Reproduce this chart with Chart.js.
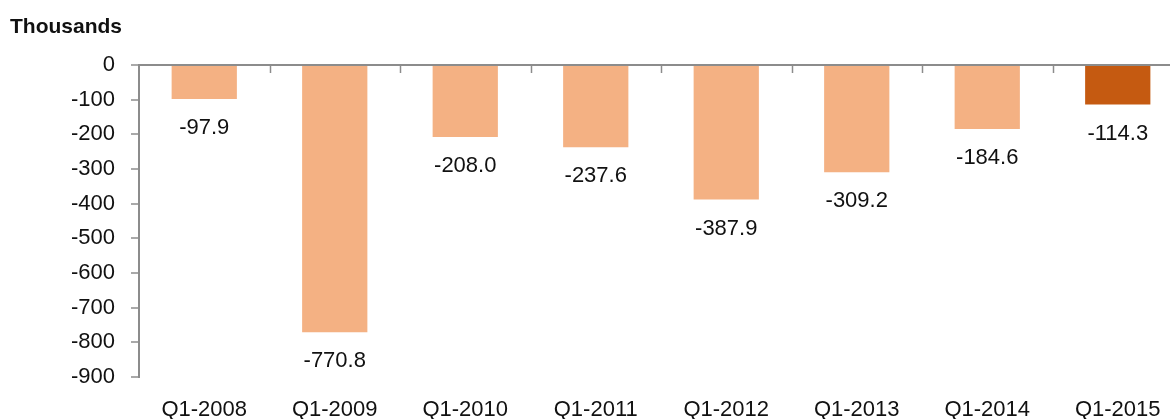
<!DOCTYPE html>
<html>
<head>
<meta charset="utf-8">
<script src="https://cdn.jsdelivr.net/npm/chart.js@4.4.1/dist/chart.umd.min.js"></script>
<style>
html,body{margin:0;padding:0;background:#fff;overflow:hidden;width:1170px;height:419px;}
#wrap{position:relative;width:1190px;height:419px;}
</style>
</head>
<body>
<div id="wrap"><canvas id="c" width="1190" height="419"></canvas></div>
<script>
const categories = ['Q1-2008','Q1-2009','Q1-2010','Q1-2011','Q1-2012','Q1-2013','Q1-2014','Q1-2015'];
const values = [-97.9, -770.8, -208.0, -237.6, -387.9, -309.2, -184.6, -114.3];
const highlighted = [false, false, false, false, false, false, false, true];
const yTicks = [0, -100, -200, -300, -400, -500, -600, -700, -800, -900];
const unitLabel = 'Thousands';

const FONT = "'Liberation Sans', Arial, sans-serif";
const AXIS = '#8c8c8c';

const catTicks = {
  id: 'catTicks',
  afterDatasetsDraw(chart) {
    const x = chart.scales.x, area = chart.chartArea, ctx = chart.ctx;
    ctx.save();
    ctx.strokeStyle = AXIS; ctx.lineWidth = 1.5;
    for (let i = 1; i <= categories.length; i++) {
      const px = Math.round((x.getPixelForValue(i - 1) + x.getPixelForValue(i)) / 2) + 0.5;
      ctx.beginPath(); ctx.moveTo(px, area.top); ctx.lineTo(px, area.top + 8); ctx.stroke();
    }
    ctx.restore();
  }
};

const valueLabels = {
  id: 'valueLabels',
  afterDatasetsDraw(chart) {
    const ctx = chart.ctx, meta = chart.getDatasetMeta(0);
    ctx.save();
    ctx.font = '22px ' + FONT; ctx.fillStyle = '#111';
    ctx.textAlign = 'center'; ctx.textBaseline = 'top';
    meta.data.forEach((bar, i) => {
      ctx.fillText(values[i].toFixed(1), bar.x, bar.y + 18);
    });
    ctx.restore();
  }
};

const unitTitle = {
  id: 'unitTitle',
  afterDraw(chart) {
    const ctx = chart.ctx;
    ctx.save();
    ctx.font = 'bold 21px ' + FONT; ctx.fillStyle = '#111';
    ctx.textAlign = 'left'; ctx.textBaseline = 'middle';
    ctx.fillText(unitLabel, 10, 27);
    ctx.restore();
  }
};

new Chart(document.getElementById('c'), {
  type: 'bar',
  data: {
    labels: categories,
    datasets: [{
      data: values,
      backgroundColor: highlighted.map(h => h ? '#C55A11' : '#F4B183'),
      borderWidth: 0,
      categoryPercentage: 1.0,
      barPercentage: 0.5
    }]
  },
  options: {
    responsive: false,
    animation: false,
    devicePixelRatio: 1,
    layout: { padding: { top: 65, right: 7, left: 0, bottom: 0 } },
    plugins: { legend: { display: false }, tooltip: { enabled: false }, title: { display: false } },
    scales: {
      x: {
        position: 'bottom',
        grid: { display: false },
        border: { display: false },
        ticks: { color: '#111', font: { family: FONT, size: 22 }, padding: 12, maxRotation: 0, autoSkip: false },
        afterFit(s) { s.height = 42; }
      },
      y: {
        min: -900, max: 0,
        afterBuildTicks(s) { s.ticks = yTicks.map(v => ({ value: v })); },
        grid: {
          drawOnChartArea: true,
          color: c => (c.tick && c.tick.value === 0) ? AXIS : 'rgba(0,0,0,0)',
          lineWidth: 2,
          tickColor: AXIS,
          tickLength: 8,
          tickWidth: 1.5
        },
        border: { display: true, color: AXIS, width: 2 },
        ticks: { color: '#111', font: { family: FONT, size: 22 }, padding: 16 },
        afterFit(s) { s.width = 139; }
      }
    }
  },
  plugins: [catTicks, valueLabels, unitTitle]
});
</script>
</body>
</html>
